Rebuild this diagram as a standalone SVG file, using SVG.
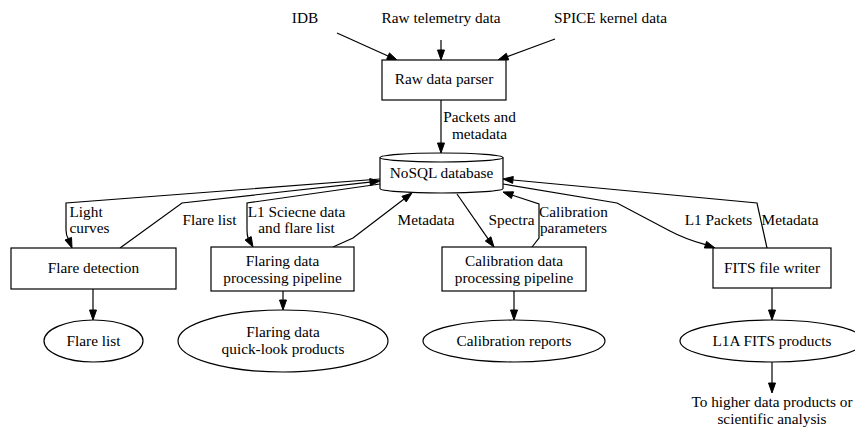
<svg xmlns="http://www.w3.org/2000/svg" width="855" height="428" viewBox="0 0 855 428">
<style>
text{font-family:"Liberation Serif","Times New Roman",serif;font-size:15.3px;fill:#000}
.m{text-anchor:middle}
.s{text-anchor:start}
.box{fill:#fff;stroke:#000;stroke-width:1.2}
.ln{fill:none;stroke:#000;stroke-width:1.2}
.ah{fill:#000;stroke:#000;stroke-width:1}
</style>
<rect width="855" height="428" fill="#fff"/>
<g id="connectors">
<path class="ln" d="M337,33 L388,56"/>
<polygon class="ah" points="397,60 386.6,59.3 389.5,52.9"/>
<path class="ln" d="M441,40 L441,50"/>
<polygon class="ah" points="441,60 437.5,50 444.5,50"/>
<path class="ln" d="M555,39 L507.5,56.6"/>
<polygon class="ah" points="498,60 506.3,53.3 508.7,59.9"/>
<path class="ln" d="M441,100 L441,143"/>
<polygon class="ah" points="441,153 437.5,143 444.5,143"/>
<path class="ln" d="M380,179 L66,203 L66,230 Q66,235 68.3,238.7"/>
<polygon class="ah" points="72,248 65,240 71.5,237.4"/>
<path class="ln" d="M120,248 L182,203 L370,182.1"/>
<polygon class="ah" points="380,181 370.4,185.6 369.7,178.6"/>
<path class="ln" d="M380,184 L247,203 L247,230 Q247,235 248.1,238.3"/>
<polygon class="ah" points="253,247 245.1,240 251.2,236.6"/>
<path class="ln" d="M333,247 L353,238 L404.1,199.1"/>
<polygon class="ah" points="412,193 406.2,201.9 401.9,196.3"/>
<path class="ln" d="M457,194 L488.1,238.9"/>
<polygon class="ah" points="494,247 485.3,241 490.9,236.8"/>
<path class="ln" d="M532,247 L539,238 L539,204 L512.5,195.2"/>
<polygon class="ah" points="503,192 513.6,191.8 511.4,198.5"/>
<path class="ln" d="M503,184 L617,203 L670,231 Q685,239 705.5,244.7"/>
<polygon class="ah" points="715,248 704.4,248 706.6,241.4"/>
<path class="ln" d="M767,248 L757,203 L513,180"/>
<polygon class="ah" points="503,179 513.3,176.5 512.6,183.4"/>
<path class="ln" d="M93,289 L93,310"/>
<polygon class="ah" points="93,320 89.5,310 96.5,310"/>
<path class="ln" d="M283,291 L283,300"/>
<polygon class="ah" points="283,310 279.5,300 286.5,300"/>
<path class="ln" d="M514,291 L514,310"/>
<polygon class="ah" points="514,320 510.5,310 517.5,310"/>
<path class="ln" d="M772,288 L772,310"/>
<polygon class="ah" points="772,320 768.5,310 775.5,310"/>
<path class="ln" d="M772,362 L772,383"/>
<polygon class="ah" points="772,393 768.5,383 775.5,383"/>
<text class="m" x="305" y="23">IDB</text>
<text class="m" x="441" y="23">Raw telemetry data</text>
<text class="m" x="610.5" y="23">SPICE kernel data</text>
<text class="m" x="479.5" y="122">Packets and</text>
<text class="m" x="479.5" y="139">metadata</text>
<text class="s" x="69.5" y="217">Light</text>
<text class="s" x="69.5" y="233">curves</text>
<text class="m" x="209.5" y="225">Flare list</text>
<text class="m" x="296.5" y="217">L1 Sciecne data</text>
<text class="m" x="296.5" y="233">and flare list</text>
<text class="m" x="426" y="225">Metadata</text>
<text class="m" x="511.5" y="225">Spectra</text>
<text class="m" x="573.5" y="217">Calibration</text>
<text class="m" x="573.5" y="233">parameters</text>
<text class="m" x="718.5" y="225">L1 Packets</text>
<text class="m" x="790" y="225">Metadata</text>
<text class="m" x="772" y="407">To higher data products or</text>
<text class="m" x="772" y="424">scientific analysis</text>
</g>
<g id="parser">
<rect class="box" x="382" y="60" width="124" height="40"/>
<text class="m" x="444" y="84">Raw data parser</text>
</g>
<g id="database">
<path class="box" d="M380,157.5 L380,188.5 A61.5,4.5 0 0 0 503,188.5 L503,157.5 A61.5,4.5 0 0 0 380,157.5 Z"/>
<path class="ln" d="M380,157.5 A61.5,4.5 0 0 0 503,157.5"/>
<text class="m" x="441.5" y="178">NoSQL database</text>
</g>
<g id="flare-detection">
<rect class="box" x="11" y="248" width="165" height="41"/>
<text class="m" x="93.5" y="273">Flare detection</text>
</g>
<g id="flaring-pipeline">
<rect class="box" x="211" y="247" width="143" height="44"/>
<text class="m" x="282.5" y="266">Flaring data</text>
<text class="m" x="282.5" y="283">processing pipeline</text>
</g>
<g id="calibration-pipeline">
<rect class="box" x="442" y="247" width="144" height="44"/>
<text class="m" x="514" y="266">Calibration data</text>
<text class="m" x="514" y="283">processing pipeline</text>
</g>
<g id="fits-writer">
<rect class="box" x="713" y="248" width="118" height="40"/>
<text class="m" x="772" y="273">FITS file writer</text>
</g>
<g id="flare-list">
<ellipse class="box" cx="93.5" cy="341" rx="49.5" ry="21"/>
<text class="m" x="93.5" y="346">Flare list</text>
</g>
<g id="quicklook">
<ellipse class="box" cx="283" cy="341" rx="105" ry="31"/>
<text class="m" x="283" y="337">Flaring data</text>
<text class="m" x="283" y="354">quick-look products</text>
</g>
<g id="calibration-reports">
<ellipse class="box" cx="514" cy="341" rx="91" ry="21"/>
<text class="m" x="514" y="346">Calibration reports</text>
</g>
<g id="l1a-fits">
<ellipse class="box" cx="772" cy="341" rx="92" ry="21"/>
<text class="m" x="772" y="346">L1A FITS products</text>
</g>
</svg>
